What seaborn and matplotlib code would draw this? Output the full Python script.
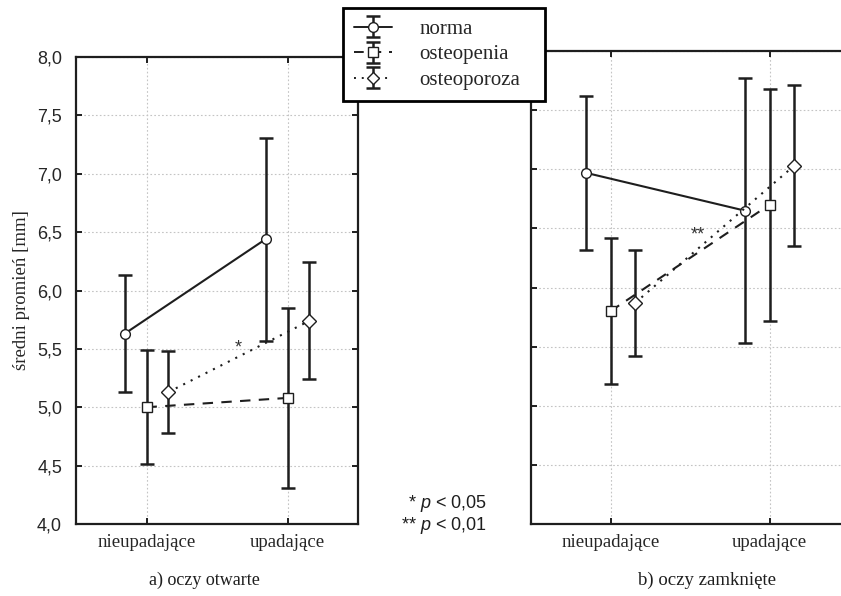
import numpy as np
import pandas as pd
import matplotlib
matplotlib.use("Agg")
import matplotlib.pyplot as plt
from matplotlib.lines import Line2D
from matplotlib.legend_handler import HandlerTuple
import seaborn as sns

# ---------------- data ----------------
categories = ["nieupadające", "upadające"]
groups = ["norma", "osteopenia", "osteoporoza"]

# a) oczy otwarte
open_mean = {"norma": [5.63, 6.44], "osteopenia": [5.00, 5.08], "osteoporoza": [5.13, 5.74]}
open_err = {"norma": [0.50, 0.87], "osteopenia": [0.49, 0.77], "osteoporoza": [0.35, 0.50]}
# b) oczy zamknięte
closed_mean = {"norma": [6.97, 6.65], "osteopenia": [5.80, 6.70], "osteoporoza": [5.87, 7.03]}
closed_err = {"norma": [0.65, 1.12], "osteopenia": [0.62, 0.98], "osteoporoza": [0.45, 0.68]}

ytick_vals = [4.0, 4.5, 5.0, 5.5, 6.0, 6.5, 7.0, 7.5, 8.0]
ytick_labels = ["4,0", "4,5", "5,0", "5,5", "6,0", "6,5", "7,0", "7,5", "8,0"]
panel_titles = ["a) oczy otwarte", "b) oczy zamknięte"]
ylabel = "średni promień [mm]"
sig_marks = ["*", "**"]
p_lines = ["* $\\it{p}$ < 0,05", "** $\\it{p}$ < 0,01"]

# ---------------- style ----------------
sns.set_theme(style="white")
plt.rcParams["font.family"] = ["Liberation Serif", "DejaVu Serif"]
plt.rcParams["mathtext.fontset"] = "custom"
plt.rcParams["mathtext.rm"] = "Liberation Sans"
plt.rcParams["mathtext.it"] = "Liberation Sans:italic"

INK = "#1e1e1e"
offsets = {"norma": -0.155, "osteopenia": 0.0, "osteoporoza": 0.155}
markers = {"norma": "o", "osteopenia": "s", "osteoporoza": "D"}
msizes = {"norma": 7, "osteopenia": 6.5, "osteoporoza": 6.5}
dashes = {"norma": "", "osteopenia": (5, 4), "osteoporoza": (1, 3)}
lstyles = {"norma": "-", "osteopenia": (0, (5, 4)), "osteoporoza": (0, (1, 3))}

W, H = 841, 596
fig = plt.figure(figsize=(W / 100, H / 100), dpi=100)
axL = fig.add_axes([76 / W, 1 - 524 / H, 282 / W, 467 / H])
axR = fig.add_axes([531 / W, 1 - 524 / H, 318 / W, 473 / H])


def build_df(means):
    rows = []
    for g in groups:
        for i, c in enumerate(categories):
            rows.append({"grupa": g, "x": i + offsets[g], "y": means[g][i]})
    return pd.DataFrame(rows)


err_handles = {}
for ax, means, errs in [(axL, open_mean, open_err), (axR, closed_mean, closed_err)]:
    df = build_df(means)
    for g in groups:
        sub = df[df["grupa"] == g]
        cont = ax.errorbar(sub["x"], sub["y"], yerr=errs[g], fmt="none",
                           ecolor=INK, elinewidth=1.8, capsize=5, capthick=1.8,
                           zorder=2)
        err_handles[g] = cont
    sns.lineplot(data=df, x="x", y="y", hue="grupa", style="grupa",
                 palette={g: INK for g in groups}, markers=markers, dashes=dashes,
                 sort=True, estimator=None, errorbar=None, legend=False, ax=ax,
                 linewidth=1.5, markerfacecolor="white", markeredgecolor=INK,
                 markeredgewidth=1.0, markersize=7, zorder=4)
    ax.set_xlim(-0.5, 1.5)
    ax.set_ylim(4.0, 8.0)
    ax.set_xticks([0, 1])
    ax.set_xticklabels(categories, fontsize=13.5)
    ax.set_yticks(ytick_vals)
    ax.set_yticklabels(ytick_labels, fontsize=13, family=["Liberation Sans"])
    ax.set_xlabel("")
    ax.set_ylabel("")
    ax.grid(True, color="#c4c4c4", linestyle=(0, (1.5, 2)), linewidth=0.8)
    ax.set_axisbelow(True)
    ax.tick_params(direction="in", length=4, width=1.4, color=INK,
                   top=True, right=True, bottom=True, left=True, pad=10)
    ax.tick_params(axis="x", pad=7)
    for s in ax.spines.values():
        s.set_color(INK)
        s.set_linewidth(1.6)
        s.set_visible(True)
    ax.patch.set_alpha(0)

axR.tick_params(labelleft=False)
axL.set_ylabel(ylabel, fontsize=13.5, labelpad=5)

# significance marks
axL.text(0.65, 5.465, sig_marks[0], fontsize=13, family=["Liberation Sans"],
         color="#333333", ha="center", va="baseline")
axR.text(0.547, 6.41, sig_marks[1], fontsize=13, family=["Liberation Sans"],
         color="#333333", ha="center", va="baseline")

# p-value legend
fig.text(487 / W, 1 - 508 / H, p_lines[0], fontsize=13, family=["Liberation Sans"],
         color=INK, ha="right", va="baseline")
fig.text(487 / W, 1 - 530 / H, p_lines[1], fontsize=13, family=["Liberation Sans"],
         color=INK, ha="right", va="baseline")

# panel subtitles
fig.text(204 / W, 1 - 580 / H, panel_titles[0], fontsize=13, color=INK,
         ha="center", va="center")
fig.text(707 / W, 1 - 580 / H, panel_titles[1], fontsize=13.5, color=INK,
         ha="center", va="center")

# legend
handles = []
for g in groups:
    proxy = Line2D([], [], color=INK, linestyle=lstyles[g], linewidth=1.4,
                   marker=markers[g], markersize=msizes[g], markerfacecolor="white",
                   markeredgecolor=INK, markeredgewidth=1.0)
    handles.append((err_handles[g], proxy))
leg = fig.legend(handles, groups, loc="upper left", mode="expand",
                 bbox_to_anchor=(343 / W, 1 - 96 / H, 202 / W, 88 / H), borderaxespad=0,
                 fontsize=15, frameon=True, fancybox=False, framealpha=1,
                 edgecolor="black", handlelength=1.8, handletextpad=1.3,
                 labelspacing=0.28, borderpad=0.55,
                 handler_map={tuple: HandlerTuple(ndivide=1)})
leg.get_frame().set_linewidth(2.0)
leg.set_zorder(10)

fig.savefig("out.png", dpi=100)
